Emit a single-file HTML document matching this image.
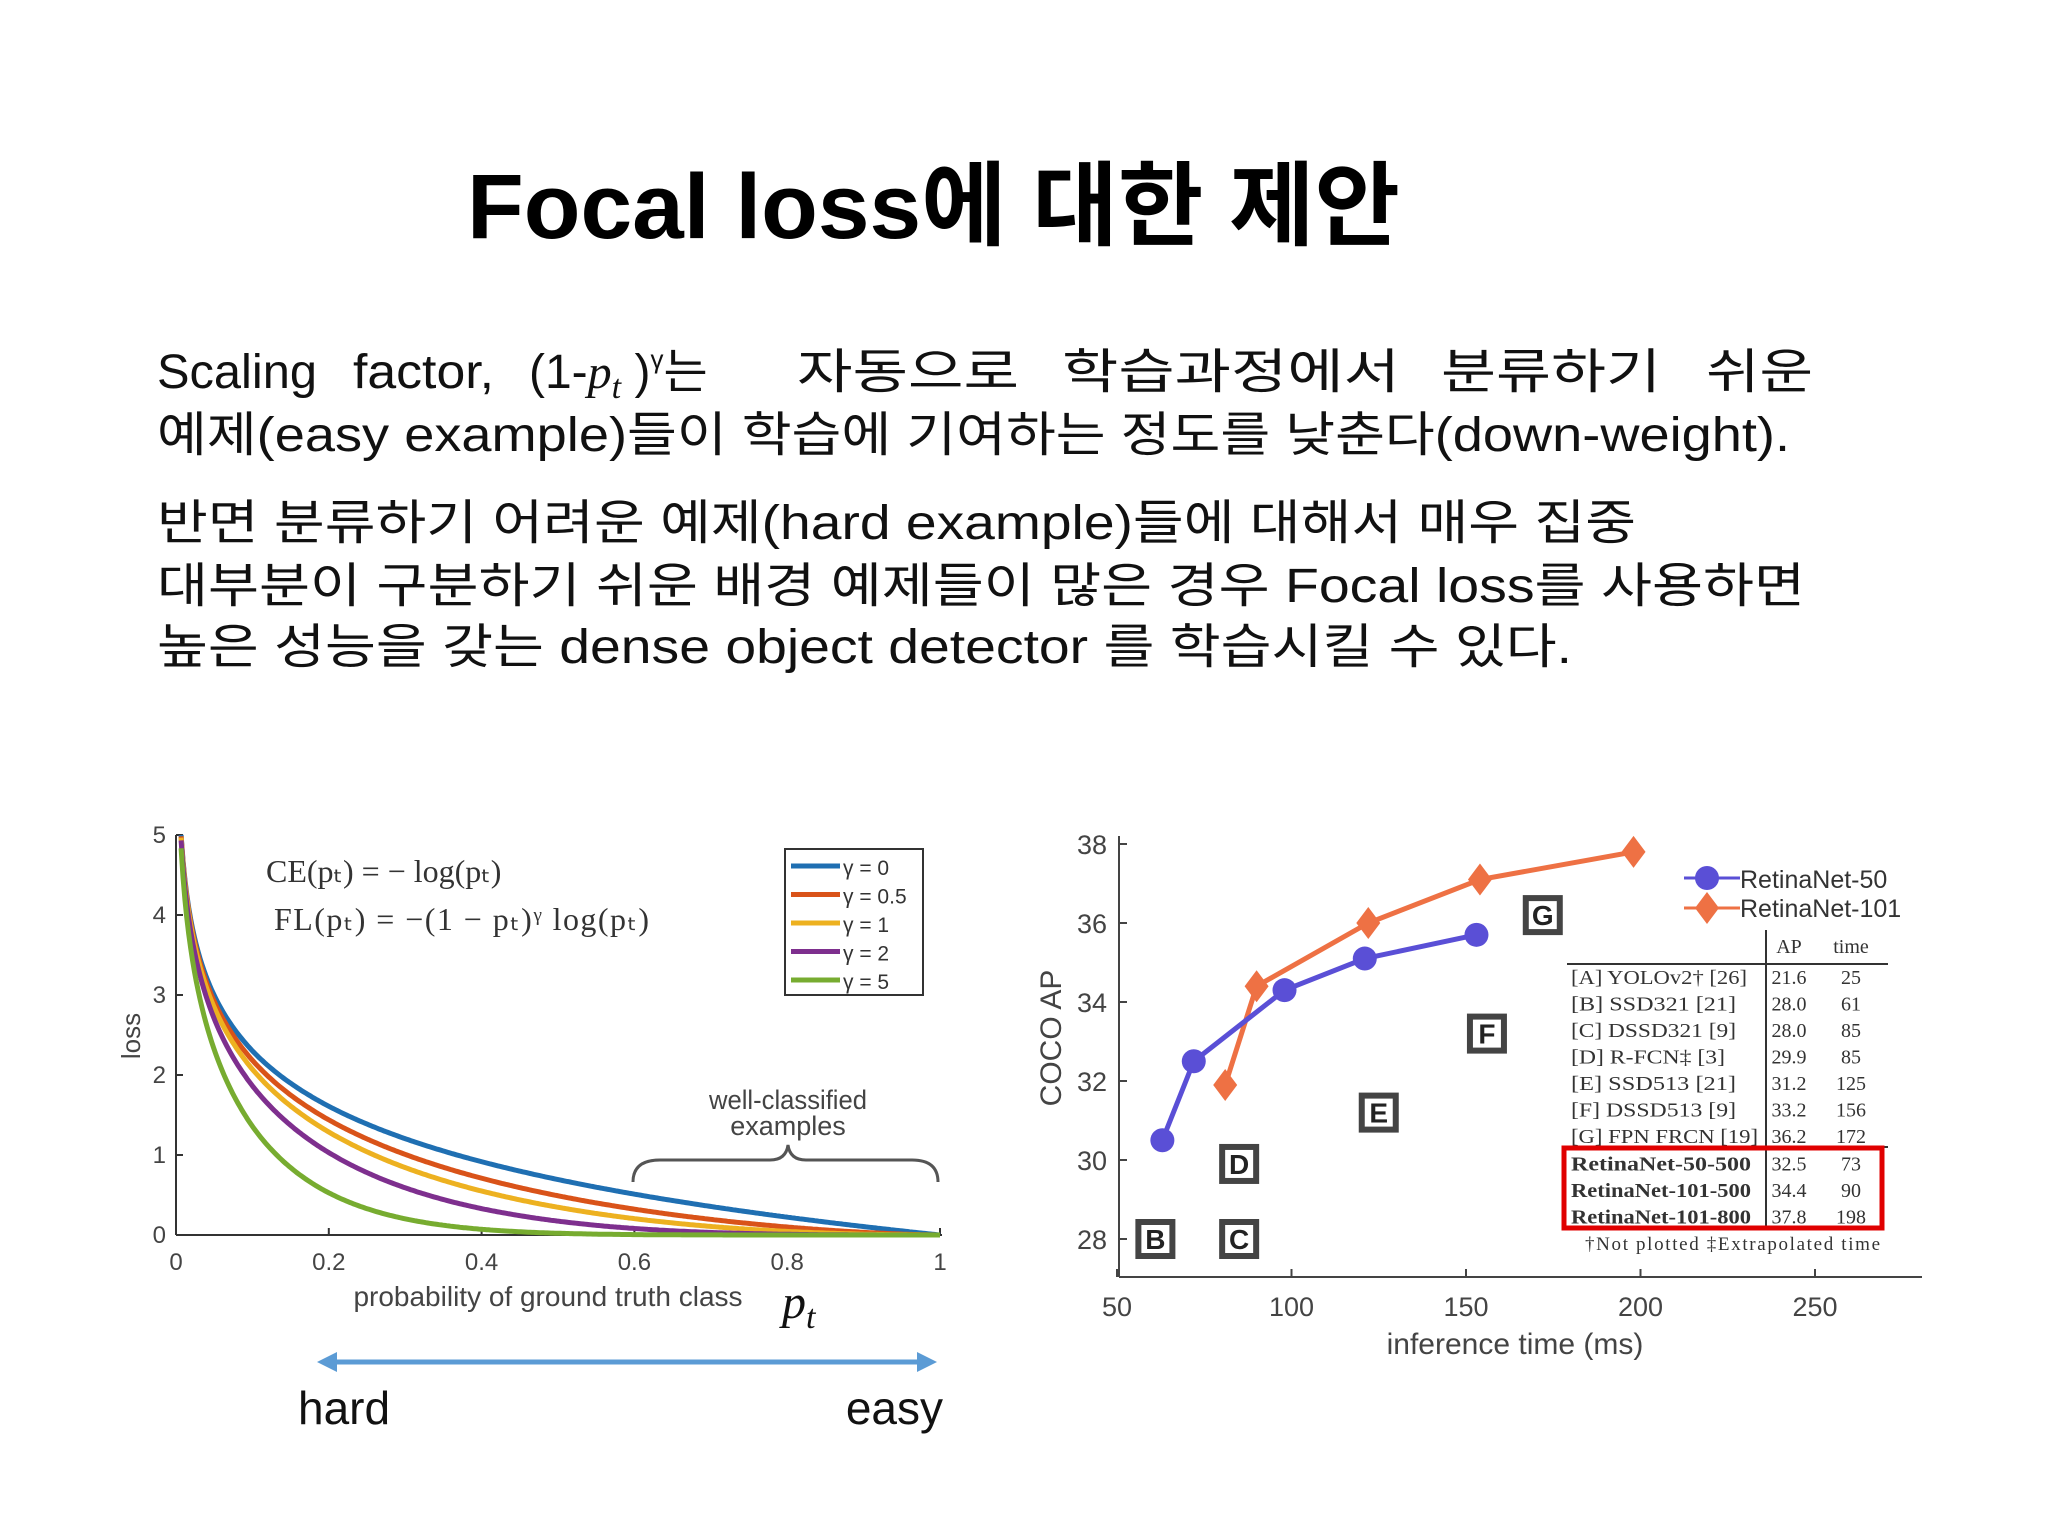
<!DOCTYPE html>
<html><head><meta charset="utf-8"><style>
html,body{margin:0;padding:0;background:#fff;}
svg{display:block;}
.k{font-family:"Liberation Sans","Noto Sans CJK KR",sans-serif;}
.s{font-family:"Liberation Serif",serif;}
</style></head><body>
<svg id="root" width="2048" height="1536" viewBox="0 0 2048 1536">
<text class="k" x="467" y="238" font-size="92" font-weight="bold" textLength="933" lengthAdjust="spacingAndGlyphs">Focal loss에 대한 제안</text>
<g class="k" font-size="48" fill="#111">
<g>
<text x="157" y="388" textLength="160" lengthAdjust="spacingAndGlyphs">Scaling</text>
<text x="353" y="388" textLength="141" lengthAdjust="spacingAndGlyphs">factor,</text>
<text x="529" y="388">(1-<tspan font-family="Liberation Serif" font-style="italic">p</tspan><tspan font-family="Liberation Serif" font-style="italic" font-size="34" dy="10">t</tspan><tspan dy="-10"> )</tspan><tspan font-size="26" dy="-20">γ</tspan><tspan dy="20">는</tspan></text>
<text x="797" y="388" textLength="222" lengthAdjust="spacingAndGlyphs">자동으로</text>
<text x="1062" y="388" textLength="338" lengthAdjust="spacingAndGlyphs">학습과정에서</text>
<text x="1441" y="388" textLength="220" lengthAdjust="spacingAndGlyphs">분류하기</text>
<text x="1706" y="388" textLength="107" lengthAdjust="spacingAndGlyphs">쉬운</text>
</g>
<text x="157" y="451" textLength="1633" lengthAdjust="spacingAndGlyphs">예제(easy example)들이 학습에 기여하는 정도를 낮춘다(down-weight).</text>
<text x="157" y="539" textLength="1479" lengthAdjust="spacingAndGlyphs">반면 분류하기 어려운 예제(hard example)들에 대해서 매우 집중</text>
<text x="157" y="602" textLength="1648" lengthAdjust="spacingAndGlyphs">대부분이 구분하기 쉬운 배경 예제들이 많은 경우 Focal loss를 사용하면</text>
<text x="157" y="663" textLength="1415" lengthAdjust="spacingAndGlyphs">높은 성능을 갖는 dense object detector 를 학습시킬 수 있다.</text>
</g>
<g id="left"></g>
<g id="right"></g>
</svg>
<script>
const NS="http://www.w3.org/2000/svg";
function mk(p,tag,attrs,txt){const e=document.createElementNS(NS,tag);for(const k in attrs)e.setAttribute(k,attrs[k]);if(txt!==undefined)e.textContent=txt;p.appendChild(e);return e;}

// ---------- Left chart data ----------
const gammas=[0,0.5,1,2,5];
const gammaLabels=["γ = 0","γ = 0.5","γ = 1","γ = 2","γ = 5"];
const gammaColors=["#1f6fb2","#d95319","#edb120","#7e2f8e","#77ac30"];
const lxTicks=[0,0.2,0.4,0.6,0.8,1];
const lyTicks=[0,1,2,3,4,5];

const L=document.getElementById('left');
const lx=v=>176+v*(940-176);
const ly=v=>1235-v*(1235-835)/5;
mk(L,'line',{x1:176,y1:835,x2:176,y2:1235,stroke:'#333','stroke-width':2});
mk(L,'line',{x1:176,y1:1235,x2:942,y2:1235,stroke:'#333','stroke-width':2});
lxTicks.forEach(t=>{
  mk(L,'line',{x1:lx(t),y1:1235,x2:lx(t),y2:1228,stroke:'#333','stroke-width':2});
  const e=mk(L,'text',{x:lx(t),y:1270,'font-size':24,'text-anchor':'middle',fill:'#444','font-family':'Liberation Sans'},String(t));
  
  
});
lyTicks.forEach(t=>{
  mk(L,'line',{x1:176,y1:ly(t),x2:183,y2:ly(t),stroke:'#333','stroke-width':2});
  const e=mk(L,'text',{x:166,y:ly(t)+8,'font-size':24,'text-anchor':'end',fill:'#444','font-family':'Liberation Sans'},String(t));
  
  
});
gammas.forEach((g,i)=>{
  let d='';
  for(let k=0;k<=400;k++){
    const p=Math.exp(-5)+(1-Math.exp(-5))*k/400;
    const v=-Math.pow(1-p,g)*Math.log(p);
    d+=(k?'L':'M')+lx(p).toFixed(1)+','+ly(v).toFixed(1);
  }
  const c=mk(L,'path',{d:d,fill:'none',stroke:gammaColors[i],'stroke-width':5});
  
  
});
let e;
e=mk(L,'text',{x:0,y:0,'font-size':26,fill:'#444','font-family':'Liberation Sans','text-anchor':'middle',transform:'translate(140,1036) rotate(-90)'},'loss');

e=mk(L,'text',{x:266,y:882,'font-size':32,fill:'#333','font-family':'Liberation Serif'},'CE(pₜ) = − log(pₜ)');

e=mk(L,'text',{x:274,y:930,'font-size':32,fill:'#333','font-family':'Liberation Serif',textLength:375,lengthAdjust:'spacing'},'FL(pₜ) = −(1 − pₜ)ᵞ log(pₜ)');

e=mk(L,'rect',{x:785,y:849,width:138,height:146,fill:'#fff',stroke:'#333','stroke-width':2});

gammas.forEach((g,i)=>{
  const y=866+i*28.5;
  const l=mk(L,'line',{x1:791,y1:y,x2:840,y2:y,stroke:gammaColors[i],'stroke-width':5});
  
  
  const t=mk(L,'text',{x:843,y:y+9,'font-size':21,fill:'#333','font-family':'Liberation Sans'},gammaLabels[i]);
  
  
});
e=mk(L,'path',{d:'M633,1182 Q633,1160 660,1160 L770,1160 Q786,1160 788,1145 Q790,1160 806,1160 L912,1160 Q938,1160 938,1182',fill:'none',stroke:'#555','stroke-width':3});

e=mk(L,'text',{x:788,y:1109,'font-size':27,fill:'#444','text-anchor':'middle','font-family':'Liberation Sans',textLength:158,lengthAdjust:'spacingAndGlyphs'},'well-classified');

e=mk(L,'text',{x:788,y:1135,'font-size':27,fill:'#444','text-anchor':'middle','font-family':'Liberation Sans'},'examples');

e=mk(L,'text',{x:548,y:1306,'font-size':28,fill:'#444','text-anchor':'middle','font-family':'Liberation Sans'},'probability of ground truth class');

e=mk(L,'text',{x:782,y:1318,'font-size':48,fill:'#111','font-style':'italic','font-family':'Liberation Serif'},'p');

mk(L,'text',{x:806,y:1328,'font-size':34,fill:'#111','font-style':'italic','font-family':'Liberation Serif'},'t');
e=mk(L,'line',{x1:330,y1:1362,x2:922,y2:1362,stroke:'#5b9bd5','stroke-width':5});

mk(L,'polygon',{points:'317,1362 337,1352 337,1372',fill:'#5b9bd5'});
mk(L,'polygon',{points:'937,1362 917,1352 917,1372',fill:'#5b9bd5'});
e=mk(L,'text',{x:298,y:1424,'font-size':46,fill:'#111','font-family':'Liberation Sans'},'hard');

e=mk(L,'text',{x:943,y:1424,'font-size':46,fill:'#111','text-anchor':'end','font-family':'Liberation Sans'},'easy');


// ---------- Right chart data ----------
const r50Time=[63,72,98,121,153];
const r50AP=[30.5,32.5,34.3,35.1,35.7];
const r101Time=[81,90,122,154,198];
const r101AP=[31.9,34.4,36.0,37.1,37.8];
const boxLetters=["B","C","D","E","F","G"];
const boxTime=[61,85,85,125,156,172];
const boxAP=[28.0,28.0,29.9,31.2,33.2,36.2];
const rxTicks=[50,100,150,200,250];
const ryTicks=[28,30,32,34,36,38];
const tblNames=["[A] YOLOv2† [26]","[B] SSD321 [21]","[C] DSSD321 [9]","[D] R-FCN‡ [3]","[E] SSD513 [21]","[F] DSSD513 [9]","[G] FPN FRCN [19]","RetinaNet-50-500","RetinaNet-101-500","RetinaNet-101-800"];
const tblAP=["21.6","28.0","28.0","29.9","31.2","33.2","36.2","32.5","34.4","37.8"];
const tblTime=["25","61","85","85","125","156","172","73","90","198"];

const R=document.getElementById('right');
const rx=v=>1117+(v-50)*(1815-1117)/200;
const ry=v=>1239-(v-28)*(1239-844)/10;
mk(R,'line',{x1:1119,y1:836,x2:1119,y2:1277,stroke:'#444','stroke-width':2});
mk(R,'line',{x1:1119,y1:1277,x2:1922,y2:1277,stroke:'#444','stroke-width':2});
rxTicks.forEach(t=>{
  mk(R,'line',{x1:rx(t),y1:1277,x2:rx(t),y2:1269,stroke:'#444','stroke-width':2});
  const e=mk(R,'text',{x:rx(t),y:1316,'font-size':27,'text-anchor':'middle',fill:'#444','font-family':'Liberation Sans'},String(t));
  
  
});
ryTicks.forEach(t=>{
  mk(R,'line',{x1:1119,y1:ry(t),x2:1127,y2:ry(t),stroke:'#444','stroke-width':2});
  const e=mk(R,'text',{x:1107,y:ry(t)+10,'font-size':27,'text-anchor':'end',fill:'#444','font-family':'Liberation Sans'},String(t));
  
  
});
e=mk(R,'text',{x:1515,y:1354,'font-size':30,'text-anchor':'middle',fill:'#444','font-family':'Liberation Sans'},'inference time (ms)');

e=mk(R,'text',{x:0,y:0,'font-size':30,'text-anchor':'middle',fill:'#444','font-family':'Liberation Sans',transform:'translate(1061,1038) rotate(-90)'},'COCO AP');

boxLetters.forEach((b,i)=>{
  const cx=rx(boxTime[i]),cy=ry(boxAP[i]);
  const r=mk(R,'rect',{x:cx-17,y:cy-17,width:34,height:34,fill:'#fff',stroke:'#444','stroke-width':6});
  
  
  mk(R,'text',{x:cx,y:cy+10,'font-size':28,'font-weight':'bold','text-anchor':'middle',fill:'#222','font-family':'Liberation Sans'},b);
});
let d=r101Time.map((t,i)=>(i?'L':'M')+rx(t)+','+ry(r101AP[i])).join('');
e=mk(R,'path',{d:d,fill:'none',stroke:'#ee7144','stroke-width':5});

r101Time.forEach((t,i)=>{
  const x=rx(t),y=ry(r101AP[i]);
  const m=mk(R,'polygon',{points:`${x},${y-16} ${x+12},${y} ${x},${y+16} ${x-12},${y}`,fill:'#ee7144'});
  
  
});
d=r50Time.map((t,i)=>(i?'L':'M')+rx(t)+','+ry(r50AP[i])).join('');
e=mk(R,'path',{d:d,fill:'none',stroke:'#5a4fd6','stroke-width':5});

r50Time.forEach((t,i)=>{
  const m=mk(R,'circle',{cx:rx(t),cy:ry(r50AP[i]),r:12,fill:'#5a4fd6'});
  
  
});
// legend
mk(R,'line',{x1:1684,y1:878,x2:1740,y2:878,stroke:'#5a4fd6','stroke-width':3});
e=mk(R,'circle',{cx:1707,cy:878,r:12,fill:'#5a4fd6'});

e=mk(R,'text',{x:1740,y:888,'font-size':25,fill:'#333','font-family':'Liberation Sans'},'RetinaNet-50');

mk(R,'line',{x1:1684,y1:908,x2:1740,y2:908,stroke:'#ee7144','stroke-width':3});
e=mk(R,'polygon',{points:'1707,892 1719,908 1707,924 1695,908',fill:'#ee7144'});

e=mk(R,'text',{x:1740,y:917,'font-size':25,fill:'#333','font-family':'Liberation Sans'},'RetinaNet-101');

// table
const T=mk(R,'g',{'font-family':'Liberation Serif','font-size':20,fill:'#333'});


mk(T,'line',{x1:1766,y1:930,x2:1766,y2:1228,stroke:'#333','stroke-width':2});
mk(T,'line',{x1:1567,y1:964,x2:1888,y2:964,stroke:'#333','stroke-width':2});
mk(T,'line',{x1:1567,y1:1147,x2:1888,y2:1147,stroke:'#333','stroke-width':2});
mk(T,'text',{x:1789,y:953,'text-anchor':'middle'},'AP');
mk(T,'text',{x:1851,y:953,'text-anchor':'middle'},'time');
tblNames.forEach((n,i)=>{
  const y=984+i*26.5+(i>=7?1:0);
  const t=mk(T,'text',{x:1571,y:y,'font-weight':i>=7?'bold':'normal',textLength:i>=7?180:Math.min(190,n.length*11),lengthAdjust:'spacingAndGlyphs'},n);
  
  
  mk(T,'text',{x:1789,y:y,'text-anchor':'middle'},tblAP[i]);
  mk(T,'text',{x:1851,y:y,'text-anchor':'middle'},tblTime[i]);
});
e=mk(R,'rect',{x:1564,y:1148,width:318,height:80,fill:'none',stroke:'#e00000','stroke-width':5});

e=mk(R,'text',{x:1585,y:1250,'font-size':19,fill:'#333','font-family':'Liberation Serif',textLength:295,lengthAdjust:'spacing'},'†Not plotted   ‡Extrapolated time');

</script>
</body></html>
